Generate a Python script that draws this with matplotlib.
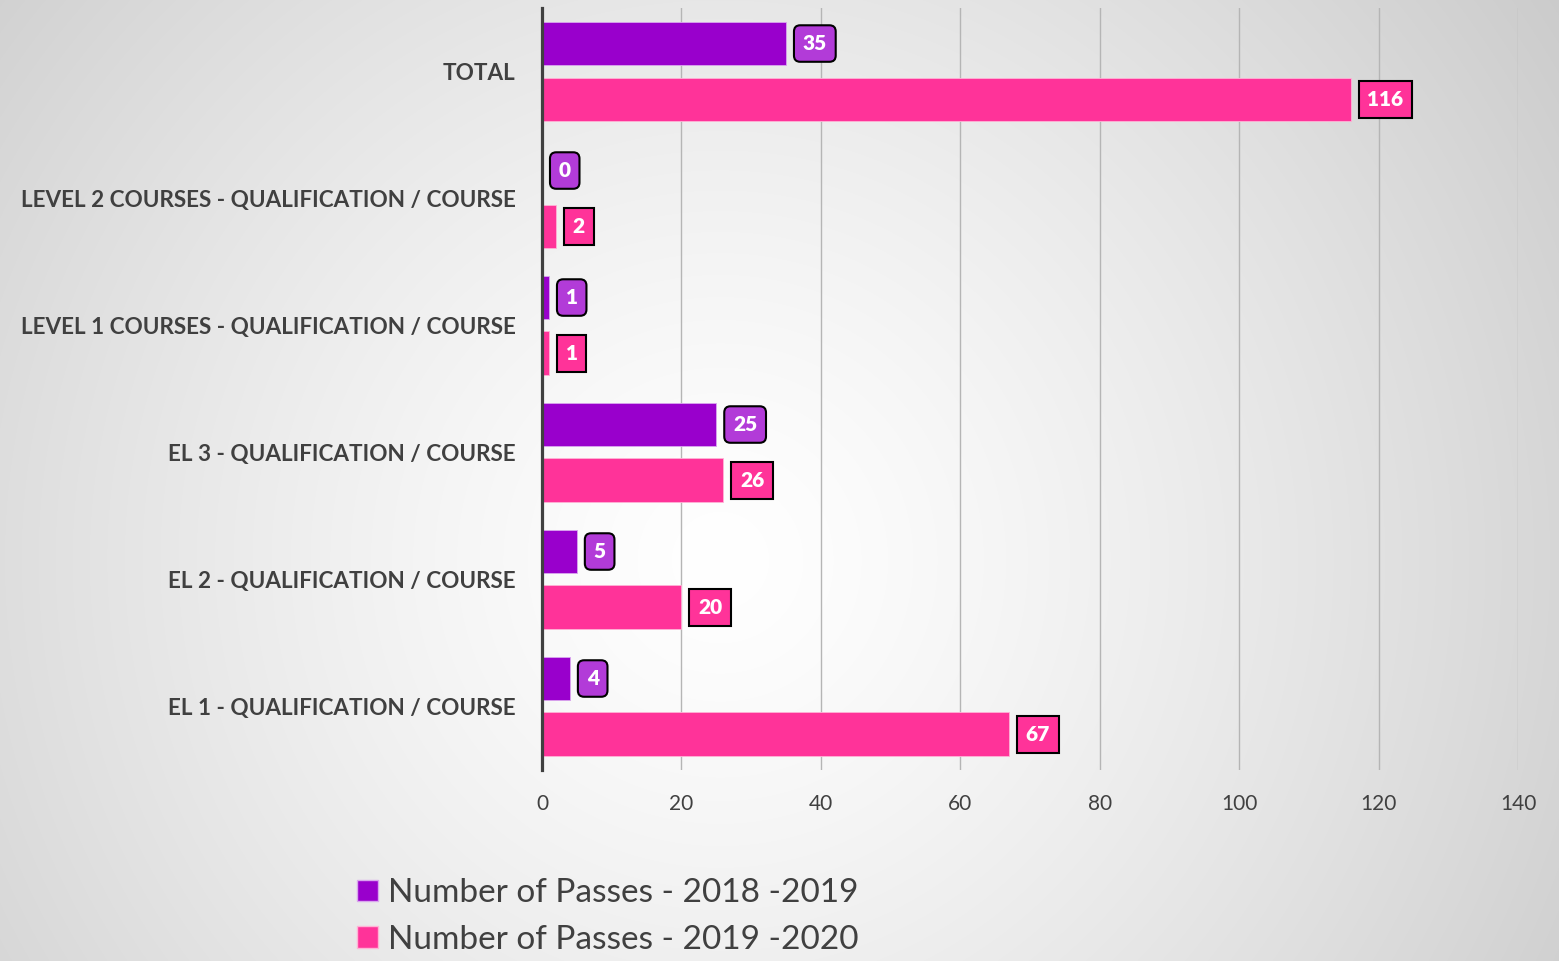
import numpy as np
import matplotlib.pyplot as plt
from matplotlib.patches import Patch

# categories listed bottom -> top
categories = ['EL 1 - QUALIFICATION / COURSE',
              'EL 2 - QUALIFICATION / COURSE',
              'EL 3 - QUALIFICATION / COURSE',
              'LEVEL 1 COURSES - QUALIFICATION / COURSE',
              'LEVEL 2 COURSES - QUALIFICATION / COURSE',
              'TOTAL']
passes_2018 = [4, 5, 25, 1, 0, 35]
passes_2019 = [67, 20, 26, 1, 2, 116]
series_names = ['Number of Passes - 2018 -2019', 'Number of Passes - 2019 -2020']
x_ticks = [0, 20, 40, 60, 80, 100, 120, 140]

purple = '#9900CC'
purple_lbl = '#B23BD8'
pink = '#FF3399'
txt = '#404040'

plt.rcParams['font.family'] = ['Lato', 'DejaVu Sans']

fig = plt.figure(figsize=(15.59, 9.61), dpi=100)

# radial gradient background
bg = fig.add_axes([0, 0, 1, 1], zorder=-1)
W, H = 1559, 961
xx, yy = np.meshgrid(np.arange(W), np.arange(H))
d = np.sqrt((xx - 720) ** 2 + (yy - 560) ** 2) / 1000.0
g = np.clip(1.0 - 0.2 * d ** 1.3, 0.78, 1.0)
bg.imshow(np.dstack([g, g, g]), aspect='auto', extent=[0, 1, 0, 1])
bg.axis('off')

ax = fig.add_axes([0.3477, 0.1988, 0.6260, 0.7929])
ax.set_facecolor('none')

y = np.arange(len(categories))
off = 0.22
h = 0.345
ax.barh(y + off, passes_2018, height=h, color=purple, edgecolor='#d9a6ee', linewidth=0.6, zorder=3)
ax.barh(y - off, passes_2019, height=h, color=pink, edgecolor='#ffb3d6', linewidth=0.6, zorder=3)

for yi, v in zip(y, passes_2018):
    ax.annotate(str(v), (v, yi + off), xytext=(12, 0), textcoords='offset points',
                ha='left', va='center', color='white', fontsize=15, fontweight='heavy',
                bbox=dict(boxstyle='round,pad=0.42,rounding_size=0.3', fc=purple_lbl,
                          ec='black', lw=1.5), zorder=5)
for yi, v in zip(y, passes_2019):
    ax.annotate(str(v), (v, yi - off), xytext=(12, 0), textcoords='offset points',
                ha='left', va='center', color='white', fontsize=15, fontweight='heavy',
                bbox=dict(boxstyle='square,pad=0.42', fc=pink, ec='black', lw=1.5), zorder=5)

ax.set_xlim(0, 140)
ax.set_ylim(-0.5, 5.5)
ax.set_xticks(x_ticks)
ax.set_yticks(y)
ax.set_yticklabels(categories, fontsize=16.2, fontweight='bold', color=txt)
ax.tick_params(axis='x', length=0, pad=17, labelsize=15, labelcolor=txt)
ax.tick_params(axis='y', length=0, pad=19)
ax.grid(axis='x', color='#b5b5b5', linewidth=1.0, zorder=0)
ax.set_axisbelow(True)
for s in ['top', 'right', 'bottom']:
    ax.spines[s].set_visible(False)
ax.spines['left'].set_color('#404040')
ax.spines['left'].set_linewidth(2.3)
ax.spines['left'].set_zorder(4)

handles = [Patch(facecolor=purple, edgecolor='#d9a6ee'),
           Patch(facecolor=pink, edgecolor='#ffb3d6')]
fig.legend(handles, series_names, loc='upper left', bbox_to_anchor=(0.229, 0.086),
           frameon=False, fontsize=24, labelcolor=txt, handlelength=0.62,
           handleheight=0.62, handletextpad=0.3, labelspacing=0.5,
           borderaxespad=0, borderpad=0)

fig.savefig('out.png', dpi=100)
